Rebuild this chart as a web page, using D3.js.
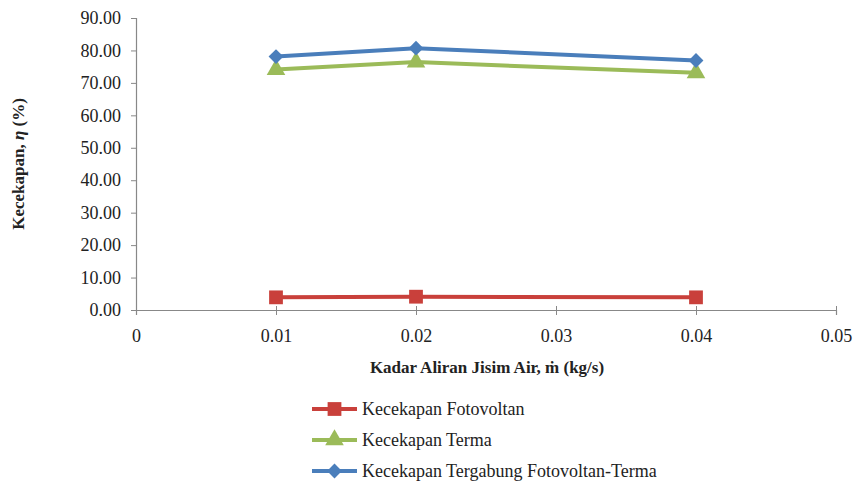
<!DOCTYPE html>
<html>
<head>
<meta charset="utf-8">
<script src="https://cdn.jsdelivr.net/npm/d3@7"></script>
</head>
<body style="margin:0">
<svg id="chart" width="855" height="481"></svg>
<script>
const flowRates = [0.01, 0.02, 0.04];
const pvEff = [3.9, 4.1, 3.9];
const thermalEff = [74.1, 76.4, 73.1];
const combinedEff = [78.1, 80.7, 76.9];
const seriesNames = ['Kecekapan Fotovoltan', 'Kecekapan Terma', 'Kecekapan Tergabung Fotovoltan-Terma'];
const yTicks = [0, 10, 20, 30, 40, 50, 60, 70, 80, 90];
const xTicks = [0, 0.01, 0.02, 0.03, 0.04, 0.05];

const FONT = 'Liberation Serif, Times New Roman, serif';
const svg = d3.select('#chart');

const x = d3.scaleLinear().domain([0, 0.05]).range([136, 836]);
const y = d3.scaleLinear().domain([0, 90]).range([310, 18]);

// axes
const yAxis = svg.append('g')
  .attr('transform', `translate(${x(0)},0)`)
  .call(d3.axisLeft(y).tickValues(yTicks).tickSize(5).tickPadding(10).tickFormat(d3.format('.2f')));
const xAxis = svg.append('g')
  .attr('transform', `translate(0,${y(0)})`)
  .call(d3.axisBottom(x).tickValues(xTicks).tickSize(5).tickPadding(14)
    .tickFormat(d => d === 0 ? '0' : d3.format('.2f')(d)));

[yAxis, xAxis].forEach(a => {
  a.attr('font-family', FONT).attr('font-size', 18);
  a.select('.domain').attr('stroke', '#888').attr('stroke-width', 1.2);
  a.selectAll('.tick line').attr('stroke', '#888');
  a.selectAll('.tick text').attr('fill', '#222');
});
xAxis.selectAll('.tick line').attr('y1', -4);

// axis titles
const yTitle = svg.append('text')
  .attr('transform', `translate(24,${y(45)}) rotate(-90)`)
  .attr('text-anchor', 'middle')
  .attr('font-family', FONT)
  .attr('font-size', 17)
  .attr('font-weight', 'bold')
  .attr('fill', '#222');
yTitle.append('tspan').text('Kecekapan, ');
yTitle.append('tspan').attr('font-style', 'italic').text('η');
yTitle.append('tspan').text(' (%)');

svg.append('text')
  .attr('x', 487)
  .attr('y', 373)
  .attr('text-anchor', 'middle')
  .attr('font-family', FONT)
  .attr('font-size', 17)
  .attr('font-weight', 'bold')
  .attr('fill', '#222')
  .text('Kadar Aliran Jisim Air, ṁ (kg/s)');

const series = [
  { name: seriesNames[0], values: pvEff, color: '#c9403b', symbol: d3.symbolSquare, size: 190, rot: 0 },
  { name: seriesNames[1], values: thermalEff, color: '#9bbb59', symbol: d3.symbolTriangle, size: 150, rot: 0 },
  { name: seriesNames[2], values: combinedEff, color: '#4a7ebb', symbol: d3.symbolSquare, size: 110, rot: 45 }
];

const line = d3.line()
  .x((d, i) => x(flowRates[i]))
  .y(d => y(d));

series.forEach(s => {
  svg.append('path')
    .datum(s.values)
    .attr('d', line)
    .attr('fill', 'none')
    .attr('stroke', s.color)
    .attr('stroke-width', 4);
  svg.selectAll(null)
    .data(s.values)
    .enter()
    .append('path')
    .attr('d', d3.symbol().type(s.symbol).size(s.size))
    .attr('transform', (d, i) => `translate(${x(flowRates[i])},${y(d)}) rotate(${s.rot})`)
    .attr('fill', s.color);
});

// legend
const legend = svg.append('g');
series.forEach((s, i) => {
  const ly = 409 + i * 31;
  legend.append('line')
    .attr('x1', 312).attr('x2', 357)
    .attr('y1', ly).attr('y2', ly)
    .attr('stroke', s.color)
    .attr('stroke-width', 4);
  legend.append('path')
    .attr('d', d3.symbol().type(s.symbol).size(s.size))
    .attr('transform', `translate(334.5,${ly}) rotate(${s.rot})`)
    .attr('fill', s.color);
  legend.append('text')
    .attr('x', 362)
    .attr('y', ly + 6)
    .attr('font-family', FONT)
    .attr('font-size', 18)
    .attr('fill', '#222')
    .text(s.name);
});
</script>
</body>
</html>
